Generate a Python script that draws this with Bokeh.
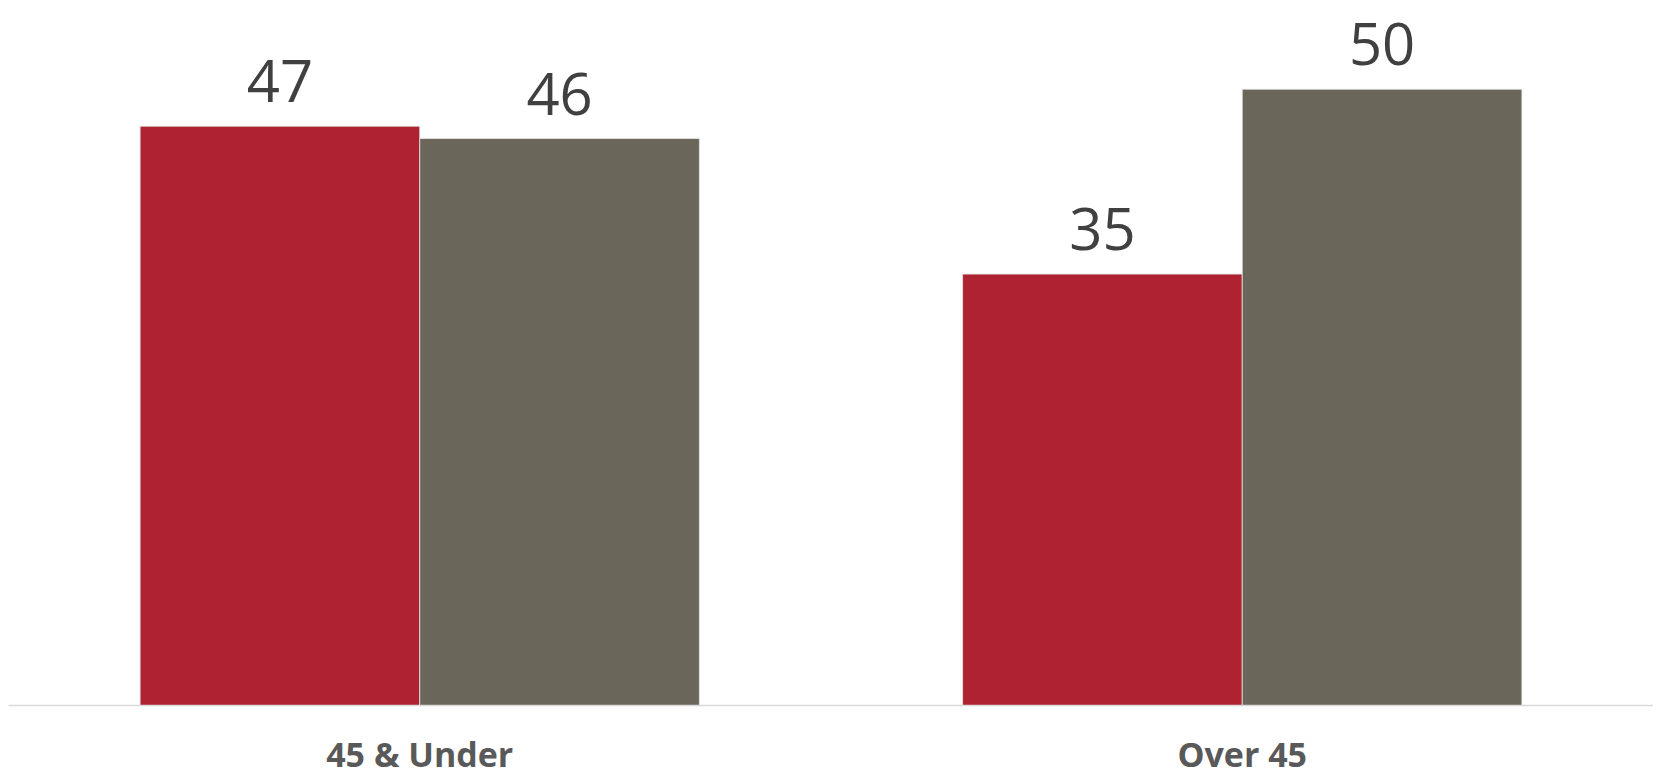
from bokeh.plotting import figure
from bokeh.models import ColumnDataSource, FactorRange, Range1d, LabelSet
from bokeh.transform import dodge
from bokeh.core.properties import value
from bokeh.embed import file_html
from bokeh.resources import INLINE

categories = ["45 & Under", "Over 45"]
series_a = [47, 35]
series_b = [46, 50]

RED = "#AE2231"
GREY = "#6B665A"

src = ColumnDataSource(dict(
    cat=categories,
    a=series_a,
    b=series_b,
    a_lbl=[str(v) for v in series_a],
    b_lbl=[str(v) for v in series_b],
))

p = figure(
    width=1653, height=779,
    x_range=FactorRange(*categories, range_padding=0),
    y_range=Range1d(0, 57.2),
    output_backend="svg", toolbar_location=None,
    min_border_left=8, min_border_right=0, min_border_top=0, min_border_bottom=60,
)
p.outline_line_color = None
p.background_fill_color = "white"
p.border_fill_color = "white"
p.xgrid.visible = False
p.ygrid.visible = False
p.yaxis.visible = False

p.vbar(x=dodge("cat", -0.17, range=p.x_range), top="a", width=0.34, source=src,
       fill_color=RED, line_color="#e6e6e6", line_width=0.8)
p.vbar(x=dodge("cat", 0.17, range=p.x_range), top="b", width=0.34, source=src,
       fill_color=GREY, line_color="#e6e6e6", line_width=0.8)

for col, lbl, off in (("a", "a_lbl", -0.17), ("b", "b_lbl", 0.17)):
    p.add_layout(LabelSet(x=dodge("cat", off, range=p.x_range), y=col, text=lbl, source=src,
                          text_font=value("Open Sans"), text_font_size=value("58px"),
                          text_color="#404040", text_align="center",
                          text_baseline="alphabetic", y_offset=24))

ax = p.xaxis[0]
ax.axis_line_color = "#d9d9d9"
ax.axis_line_width = 1.5
ax.major_tick_line_color = None
ax.minor_tick_line_color = None
ax.major_tick_out = 0
ax.major_tick_in = 0
ax.major_label_text_font = "Open Sans"
ax.major_label_text_font_style = "bold"
ax.major_label_text_font_size = "34px"
ax.major_label_text_color = "#595959"
ax.major_label_standoff = 25

open("out.html", "w").write(file_html(p, INLINE))
